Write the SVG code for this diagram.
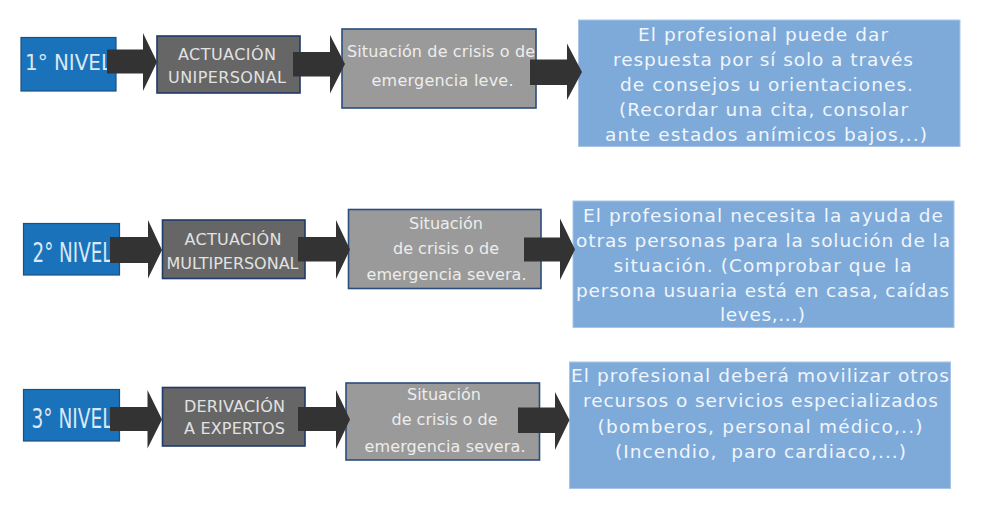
<svg xmlns="http://www.w3.org/2000/svg" width="986" height="508" viewBox="0 0 986 508">
<style>
.lvl{fill:#1a73ba;stroke:#1d4f80;stroke-width:1.2}
.act{fill:#666666;stroke:#1f3a6b;stroke-width:1.6}
.sit{fill:#9a9a9a;stroke:#2b4d7e;stroke-width:1.6}
.res{fill:#7eaad9;stroke:#a8c5e8;stroke-width:1}
.arr{fill:#333333}
text{font-family:"DejaVu Sans","Liberation Sans",sans-serif}
.tl{fill:#dce8f5}
.ta{fill:#e2e2e2;font-size:16px;text-anchor:middle}
.ts{fill:#ededed;font-size:16px;text-anchor:middle}
.tr{fill:#f0f5fb;font-size:18.5px;text-anchor:middle}
</style>
<rect width="986" height="508" fill="#ffffff"/>

<g id="nivel1">
<rect class="lvl" x="21" y="37.5" width="95" height="53.5"/>
<text class="tl" x="25" y="70" font-size="21" textLength="87" lengthAdjust="spacingAndGlyphs">1° NIVEL</text>
</g>
<g id="actuacion1">
<rect class="act" x="157" y="36" width="143" height="57"/>
<text class="ta" x="227" y="60" textLength="98" lengthAdjust="spacing">ACTUACIÓN</text>
<text class="ta" x="227" y="82.5" textLength="118" lengthAdjust="spacing">UNIPERSONAL</text>
</g>
<g id="situacion1">
<rect class="sit" x="342" y="29" width="194" height="79"/>
<text class="ts" x="441" y="56.5" textLength="188" lengthAdjust="spacing">Situación de crisis o de</text>
<text class="ts" x="442.5" y="86" textLength="142" lengthAdjust="spacing">emergencia leve.</text>
</g>
<g id="respuesta1">
<rect class="res" x="578.5" y="20" width="381.5" height="126.5"/>
<text class="tr" x="763" y="41" textLength="250" lengthAdjust="spacing">El profesional puede dar</text>
<text class="tr" x="763" y="66" textLength="300" lengthAdjust="spacing">respuesta por sí solo a través</text>
<text class="tr" x="766.5" y="91" textLength="293" lengthAdjust="spacing">de consejos u orientaciones.</text>
<text class="tr" x="763.5" y="116" textLength="289" lengthAdjust="spacing">(Recordar una cita, consolar</text>
<text class="tr" x="766" y="140.5" textLength="322" lengthAdjust="spacing">ante estados anímicos bajos,..)</text>
</g>

<g id="nivel2">
<rect class="lvl" x="23.5" y="223.5" width="96" height="51.5"/>
<text class="tl" x="32.5" y="261.5" font-size="27" textLength="80" lengthAdjust="spacingAndGlyphs">2° NIVEL</text>
</g>
<g id="actuacion2">
<rect class="act" x="162.5" y="220" width="142.5" height="58.5"/>
<text class="ta" x="233" y="245" textLength="97" lengthAdjust="spacing">ACTUACIÓN</text>
<text class="ta" x="232.5" y="268.5" textLength="132" lengthAdjust="spacing">MULTIPERSONAL</text>
</g>
<g id="situacion2">
<rect class="sit" x="348.5" y="209.5" width="192.5" height="79"/>
<text class="ts" x="446" y="228.5">Situación</text>
<text class="ts" x="446" y="253.5">de crisis o de</text>
<text class="ts" x="446.5" y="280" textLength="160" lengthAdjust="spacing">emergencia severa.</text>
</g>
<g id="respuesta2">
<rect class="res" x="573" y="201" width="381" height="126.5"/>
<text class="tr" x="763" y="222" textLength="360" lengthAdjust="spacing">El profesional necesita la ayuda de</text>
<text class="tr" x="763" y="246.5" textLength="374" lengthAdjust="spacing">otras personas para la solución de la</text>
<text class="tr" x="762.5" y="271.5" textLength="298" lengthAdjust="spacing">situación. (Comprobar que la</text>
<text class="tr" x="762.5" y="296.5" textLength="373" lengthAdjust="spacing">persona usuaria está en casa, caídas</text>
<text class="tr" x="762.5" y="321" textLength="85" lengthAdjust="spacing">leves,...)</text>
</g>

<g id="nivel3">
<rect class="lvl" x="23.5" y="389.5" width="96" height="51.5"/>
<text class="tl" x="31.5" y="428" font-size="27" textLength="81" lengthAdjust="spacingAndGlyphs">3° NIVEL</text>
</g>
<g id="derivacion3">
<rect class="act" x="162.5" y="387.5" width="142.5" height="58.5"/>
<text class="ta" x="234.5" y="411.5" textLength="101" lengthAdjust="spacing">DERIVACIÓN</text>
<text class="ta" x="234.5" y="434" textLength="101" lengthAdjust="spacing">A EXPERTOS</text>
</g>
<g id="situacion3">
<rect class="sit" x="346" y="383" width="193.5" height="77"/>
<text class="ts" x="444" y="399.5">Situación</text>
<text class="ts" x="444.5" y="425">de crisis o de</text>
<text class="ts" x="445" y="451.5" textLength="161" lengthAdjust="spacing">emergencia severa.</text>
</g>
<g id="respuesta3">
<rect class="res" x="569.5" y="362" width="381" height="126.5"/>
<text class="tr" x="760" y="382" textLength="378" lengthAdjust="spacing">El profesional deberá movilizar otros</text>
<text class="tr" x="760.5" y="407" textLength="355" lengthAdjust="spacing">recursos o servicios especializados</text>
<text class="tr" x="760" y="432.5" textLength="325" lengthAdjust="spacing">(bomberos, personal médico,..)</text>
<text class="tr" x="760.5" y="457.5" textLength="291" lengthAdjust="spacing" xml:space="preserve">(Incendio,  paro cardiaco,...)</text>
</g>

<g id="connectors">
<polygon class="arr" points="107,49.5 143,49.5 143,33 157,62 143,91 143,73.5 107,73.5"/>
<polygon class="arr" points="293,52 330,52 330,35 345,64 330,93.5 330,76.5 293,76.5"/>
<polygon class="arr" points="530,59.5 567,59.5 567,43.5 582,72 567,100 567,85 530,85"/>
<polygon class="arr" points="110,237 148,237 148,220 162,250 148,278.5 148,263 110,263"/>
<polygon class="arr" points="298,237 336,237 336,220 350,249.5 336,279 336,261.5 298,261.5"/>
<polygon class="arr" points="524,237.5 560,237.5 560,218.5 575,249.5 560,280 560,261.5 524,261.5"/>
<polygon class="arr" points="110,407 147.5,407 147.5,390 162,419.5 147.5,448.5 147.5,431 110,431"/>
<polygon class="arr" points="298,407 336,407 336,390 350,419.5 336,449 336,431 298,431"/>
<polygon class="arr" points="518,407.5 555,407.5 555,392 569.5,420 555,450 555,433 518,433"/>
</g>
</svg>
